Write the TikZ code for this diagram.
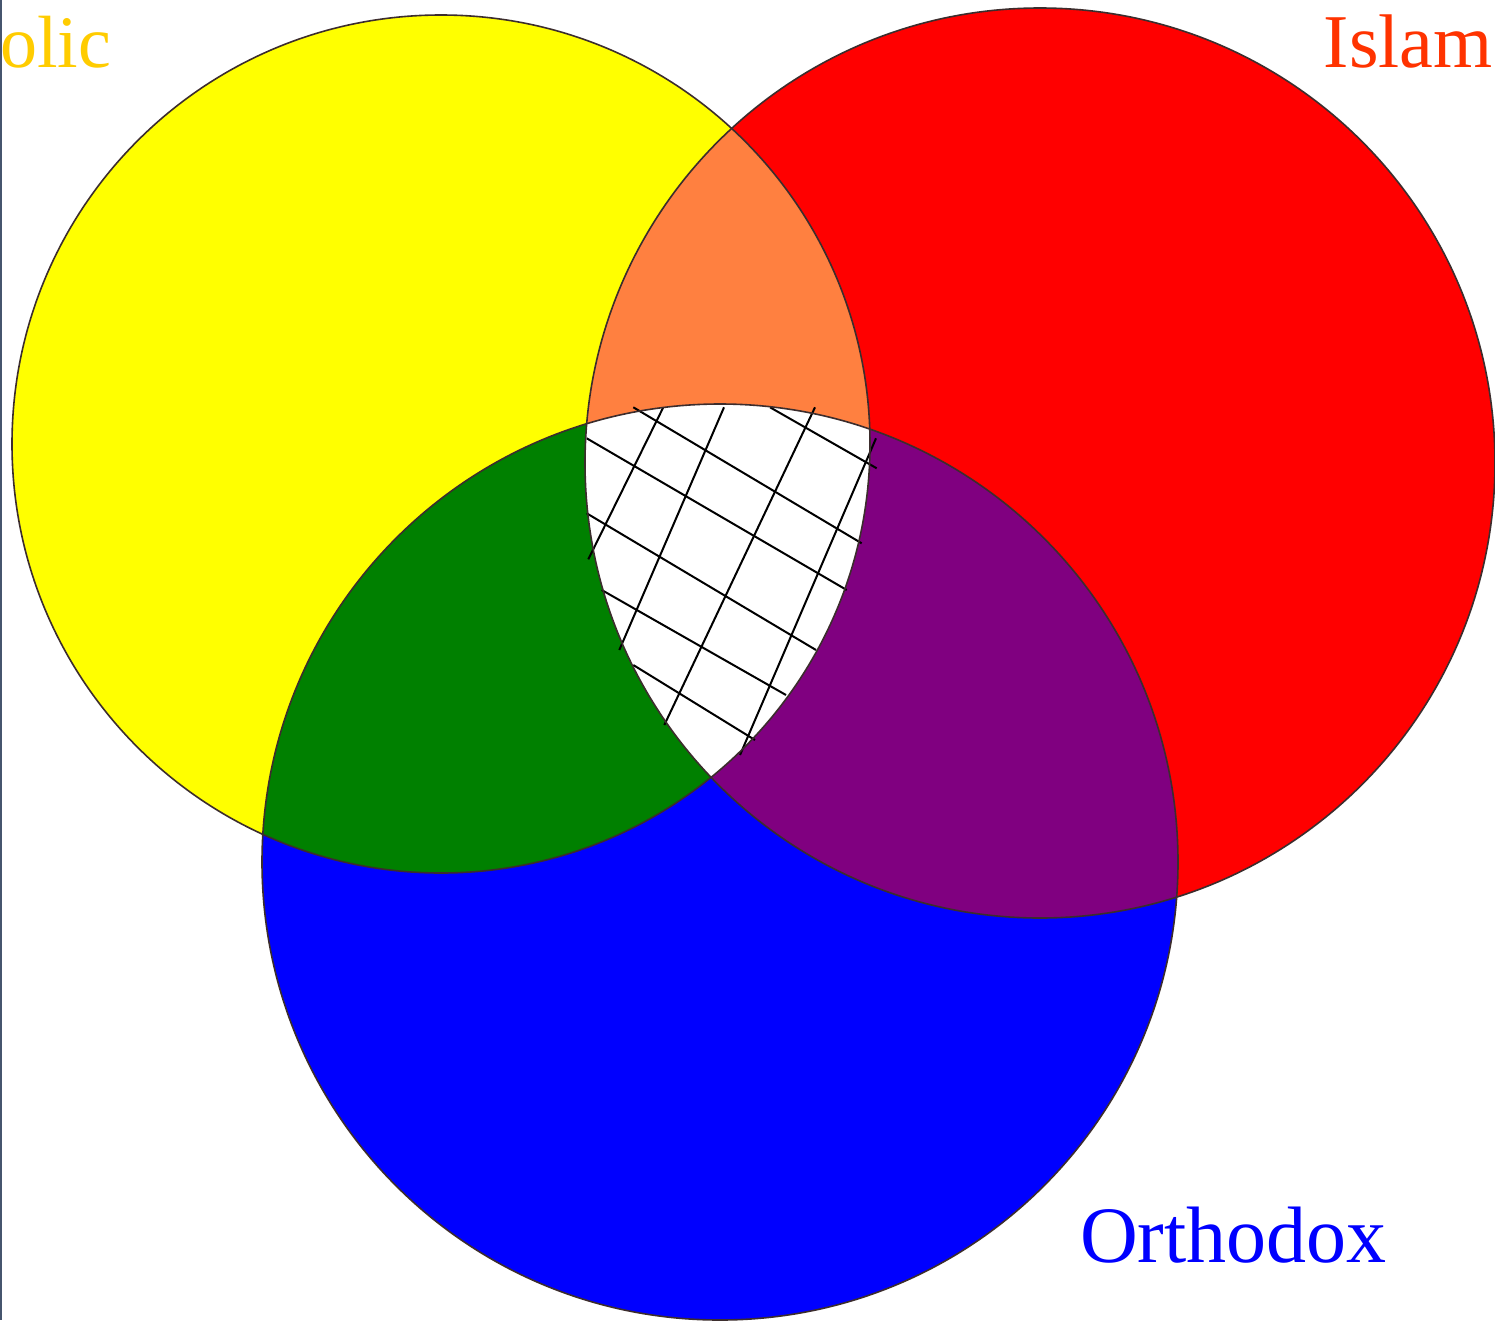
\documentclass[tikz,border=0pt]{standalone}
\usepackage{fontspec}
\setmainfont{Liberation Serif}
\definecolor{cyel}{RGB}{255,255,0}
\definecolor{cred}{RGB}{255,0,0}
\definecolor{cblu}{RGB}{0,0,255}
\definecolor{corg}{RGB}{255,128,64}
\definecolor{cgrn}{RGB}{0,128,0}
\definecolor{cpur}{RGB}{128,0,128}
\definecolor{cgold}{RGB}{255,204,0}
\definecolor{cislam}{RGB}{255,51,0}
\definecolor{cedge}{RGB}{60,45,45}
\definecolor{cleft}{RGB}{70,85,110}
\begin{document}
\begin{tikzpicture}[x=1pt,y=-1pt,
  outline/.style={draw=cedge,line width=1.6pt},
  hatch/.style={draw=black,line width=2pt},
  label/.style={inner sep=0pt,font=\fontsize{78}{90}\selectfont}]
\useasboundingbox (0,0) rectangle (1495,1320);
\clip (0,0) rectangle (1495,1320);
\fill[white] (0,0) rectangle (1495,1320);
% circles
\coordinate (cY) at (441,444);
\coordinate (cR) at (1040,463);
\coordinate (cB) at (720,862);
\fill[cyel] (cY) circle (429);
\fill[cred] (cR) circle (455);
\fill[cblu] (cB) circle (458);
\begin{scope}
  \clip (cY) circle (429);
  \fill[corg] (cR) circle (455);
  \fill[cgrn] (cB) circle (458);
\end{scope}
\begin{scope}
  \clip (cR) circle (455);
  \fill[cpur] (cB) circle (458);
  \clip (cB) circle (458);
  \fill[white] (cY) circle (429);
\end{scope}
% hatching
\draw[hatch] (633.3,407.3) -- (861.7,543.3);
\draw[hatch] (770,407.3) -- (876.7,468.3);
\draw[hatch] (586.7,438.3) -- (846.7,590);
\draw[hatch] (586.7,513.3) -- (816,650);
\draw[hatch] (601.7,590) -- (786,695);
\draw[hatch] (633.3,665) -- (755,740);
\draw[hatch] (663.3,407.3) -- (588.3,559.3);
\draw[hatch] (724,407.3) -- (619.3,650);
\draw[hatch] (815,407.3) -- (664.3,725);
\draw[hatch] (876,438.3) -- (740,755);
% outlines
\draw[outline] (cY) circle (429);
\draw[outline] (cR) circle (455);
\draw[outline] (cB) circle (458);
% labels
\node[label,text=cgold,anchor=base west,font=\fontsize{74}{90}\selectfont] (tc) at (0,67) {olic};
\node[label,text=cislam,anchor=base east,font=\fontsize{76}{90}\selectfont] (ti) at (1493,67) {Islam};
\node[label,text=cblu,anchor=base west,font=\fontsize{80}{90}\selectfont] (to) at (1080,1262) {Orthodox};
% left edge line
\draw[cleft,line width=2pt] (0.5,0) -- (0.5,1320);
\end{tikzpicture}
\end{document}
